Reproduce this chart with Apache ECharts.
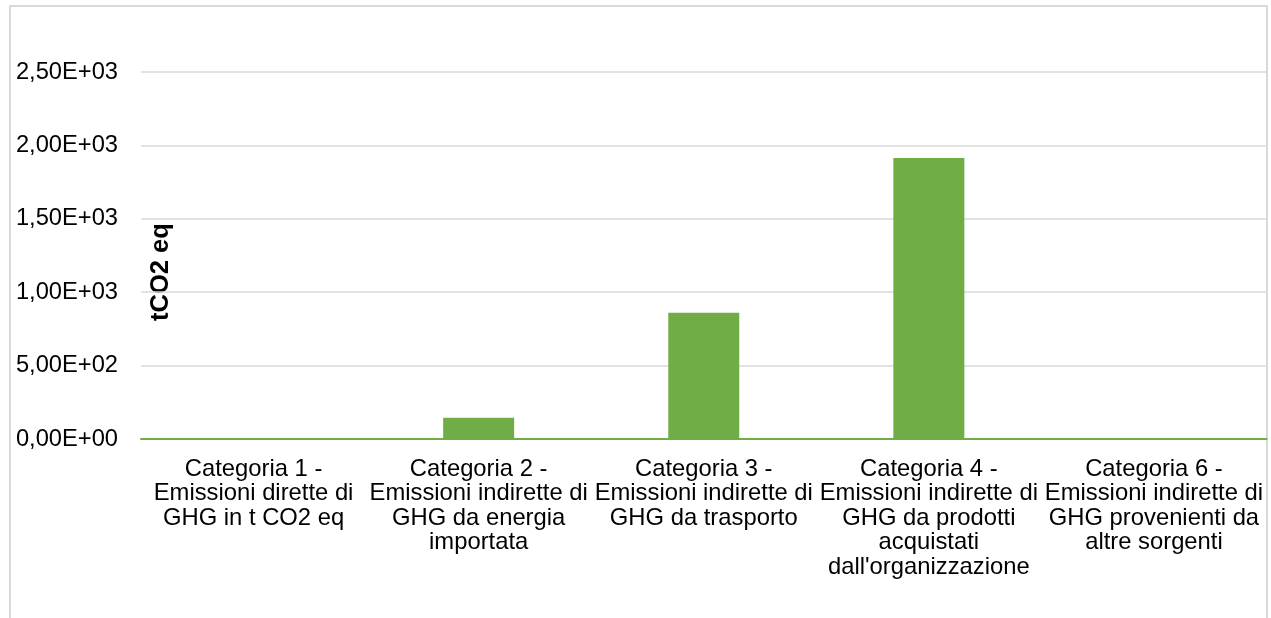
<!DOCTYPE html>
<html>
<head>
<meta charset="utf-8">
<style>
html,body{margin:0;padding:0;background:#fff;}
#chart{width:1271px;height:618px;}
</style>
<script src="https://cdn.jsdelivr.net/npm/echarts@6/dist/echarts.min.js"></script>
</head>
<body>
<div id="chart"></div>
<script>
const categories = [
  "Categoria 1 -\nEmissioni dirette di\nGHG in t CO2 eq",
  "Categoria 2 -\nEmissioni indirette di\nGHG da energia\nimportata",
  "Categoria 3 -\nEmissioni indirette di\nGHG da trasporto",
  "Categoria 4 -\nEmissioni indirette di\nGHG da prodotti\nacquistati\ndall'organizzazione",
  "Categoria 6 -\nEmissioni indirette di\nGHG provenienti da\naltre sorgenti"
];
const values = [0, 145, 860, 1915, 0];
const yAxisName = "tCO2 eq";
const yMin = 0, yMax = 2500, yStep = 500;

function sci(v) {
  if (v === 0) return "0,00E+00";
  const e = Math.floor(Math.log10(Math.abs(v)));
  const m = v / Math.pow(10, e);
  const es = (e < 0 ? "-" : "+") + String(Math.abs(e)).padStart(2, "0");
  return m.toFixed(2).replace(".", ",") + "E" + es;
}

const FONT = "Liberation Sans, Arial, sans-serif";
const chart = echarts.init(document.getElementById('chart'), null, {renderer: 'canvas'});
chart.setOption({
  animation: false,
  backgroundColor: '#ffffff',
  grid: {left: 141, right: 4.5, top: 72, bottom: 179, containLabel: false},
  xAxis: {
    type: 'category',
    data: categories,
    axisLine: {show: true, lineStyle: {color: '#70AD47', width: 2}},
    axisTick: {show: false},
    axisLabel: {
      interval: 0, margin: 18, color: '#000', fontFamily: FONT,
      fontSize: 23.8, lineHeight: 24.5, align: 'center', verticalAlign: 'top'
    }
  },
  yAxis: {
    type: 'value', min: yMin, max: yMax, interval: yStep,
    axisLine: {show: false}, axisTick: {show: false},
    splitLine: {lineStyle: {color: '#D9D9D9', width: 1.5}},
    axisLabel: {formatter: sci, margin: 23, color: '#000', fontFamily: FONT, fontSize: 23.7}
  },
  series: [{
    type: 'bar', data: values, barWidth: 71,
    itemStyle: {color: '#70AD47'}
  }],
  graphic: [
    {type: 'rect', z: -1, shape: {x: 10, y: 6, width: 1257, height: 700},
     style: {fill: 'none', stroke: '#D9D9D9', lineWidth: 2}},
    {type: 'text', x: 161, y: 272, rotation: Math.PI / 2,
     style: {text: yAxisName, font: 'bold 25.5px ' + FONT, fill: '#000',
             align: 'center', verticalAlign: 'middle'}}
  ]
});
</script>
</body>
</html>
